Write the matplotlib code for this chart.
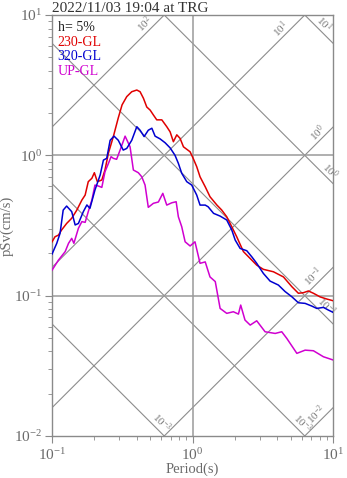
import numpy as np
import matplotlib
matplotlib.use('Agg')
import matplotlib.pyplot as plt
from matplotlib.ticker import LogLocator, NullFormatter

plt.rcParams.update({
    'font.family': ['Liberation Serif', 'DejaVu Serif'],
    'mathtext.fontset': 'custom',
    'mathtext.rm': 'Liberation Serif',
    'mathtext.it': 'Liberation Serif:italic',
    'mathtext.bf': 'Liberation Serif:bold',
})

GRAY = '#7a7a7a'
LINE_GRAY = '#8c8c8c'
RED = '#e00000'
BLUE = '#0000d0'
MAGENTA = '#d000d0'

# ── Spectra (period s, pSv cm/s) ──────────────────────────────────────────────
t_230 = [0.100, 0.105, 0.111, 0.117, 0.127, 0.138, 0.150, 0.163, 0.172, 0.181,
         0.192, 0.200, 0.210, 0.226, 0.238, 0.252, 0.273, 0.296, 0.315, 0.340,
         0.369, 0.401, 0.423, 0.447, 0.472, 0.499, 0.526, 0.556, 0.604, 0.655,
         0.692, 0.730, 0.772, 0.815, 0.861, 0.960, 1.01, 1.07, 1.13, 1.23,
         1.33, 1.49, 1.61, 1.75, 1.90, 2.06, 2.30, 2.57, 2.86, 3.19,
         3.76, 4.43, 5.08, 5.66, 6.15, 6.67, 7.24, 8.08, 9.02, 10.0]
sv_230 = [0.242, 0.263, 0.270, 0.294, 0.327, 0.356, 0.407, 0.480, 0.521, 0.649,
          0.686, 0.752, 0.649, 0.667, 0.786, 1.04, 1.36, 1.85, 2.29, 2.62,
          2.84, 2.92, 2.84, 2.55, 2.21, 2.10, 1.94, 1.79, 1.79, 1.60,
          1.47, 1.25, 1.40, 1.32, 1.15, 1.06, 0.951, 0.830, 0.703, 0.597,
          0.507, 0.442, 0.408, 0.365, 0.310, 0.263, 0.206, 0.184, 0.165, 0.154,
          0.148, 0.136, 0.116, 0.104, 0.105, 0.108, 0.104, 0.098, 0.0946, 0.092]

t_320 = [0.100, 0.108, 0.114, 0.120, 0.127, 0.138, 0.146, 0.154, 0.167, 0.177,
         0.186, 0.202, 0.220, 0.232, 0.245, 0.259, 0.276, 0.296, 0.321, 0.340,
         0.369, 0.401, 0.423, 0.452, 0.484, 0.513, 0.541, 0.587, 0.637, 0.692,
         0.750, 0.792, 0.837, 0.909, 0.986, 1.07, 1.13, 1.23, 1.29, 1.41,
         1.57, 1.75, 1.90, 2.01, 2.18, 2.43, 2.64, 2.86, 3.19, 3.56,
         4.08, 4.55, 5.08, 5.66, 6.32, 7.05, 7.65, 8.53, 9.26, 10.0]
sv_320 = [0.198, 0.236, 0.278, 0.407, 0.435, 0.397, 0.319, 0.327, 0.397, 0.443,
          0.419, 0.566, 0.724, 0.925, 0.952, 1.28, 1.37, 1.28, 1.09, 1.12,
          1.28, 1.60, 1.51, 1.36, 1.51, 1.56, 1.37, 1.31, 1.23, 1.13,
          1.00, 0.877, 0.745, 0.649, 0.614, 0.521, 0.442, 0.442, 0.430, 0.386,
          0.369, 0.346, 0.294, 0.249, 0.217, 0.209, 0.189, 0.170, 0.144, 0.127,
          0.119, 0.107, 0.0983, 0.0890, 0.0881, 0.0843, 0.0811, 0.0825, 0.0789, 0.0760]

t_up = [0.100, 0.111, 0.124, 0.131, 0.138, 0.143, 0.154, 0.163, 0.172, 0.181,
        0.192, 0.202, 0.214, 0.226, 0.238, 0.252, 0.263, 0.273, 0.288, 0.305,
        0.331, 0.359, 0.379, 0.411, 0.435, 0.459, 0.484, 0.526, 0.571, 0.614,
        0.655, 0.711, 0.764, 0.792, 0.837, 0.885, 0.960, 1.04, 1.13, 1.23,
        1.33, 1.45, 1.57, 1.75, 1.95, 2.12, 2.20, 2.36, 2.57, 2.86,
        3.28, 3.87, 4.31, 4.68, 5.52, 6.32, 7.24, 8.53, 10.0]
sv_up = [0.152, 0.179, 0.206, 0.236, 0.256, 0.236, 0.302, 0.337, 0.333, 0.397,
         0.480, 0.614, 0.604, 0.591, 0.764, 0.877, 0.978, 0.952, 0.937, 1.09,
         1.37, 1.15, 0.786, 0.752, 0.703, 0.614, 0.426, 0.455, 0.465, 0.536,
         0.442, 0.459, 0.467, 0.365, 0.310, 0.242, 0.226, 0.242, 0.170, 0.174,
         0.136, 0.126, 0.0811, 0.0748, 0.0768, 0.0739, 0.0857, 0.0670, 0.0617, 0.0662,
         0.0553, 0.0538, 0.0553, 0.0496, 0.0388, 0.0409, 0.0405, 0.0367, 0.0348]

series_names = ['230-GL', '320-GL', 'UP-GL']

# tripartite guide values: pSa (cm/s^2) and Sd (cm)
sa_levels = [1e-2, 1e-1, 1e0, 1e1, 1e2]
sd_levels = [1e-3, 1e-2, 1e-1, 1e0, 1e1]
sa_labels = [(1e2, 0.50, r'$10^2$'), (1e1, 4.6, r'$10^1$'), (1e0, 8.4, r'$10^0$'),
             (1e-1, 7.9, r'$10^{-1}$'), (1e-2, 8.2, r'$10^{-2}$')]
sd_labels = [(1e1, 7.9, r'$10^1$'), (1e0, 8.8, r'$10^0$'), (1e-1, 8.2, r'$10^{-1}$'),
             (1e-2, 5.6, r'$10^{-3}$'), (1e-3, 0.55, r'$10^{-3}$')]

fig = plt.figure(figsize=(3.47, 4.78), dpi=100)
ax = fig.add_axes([0.150, 0.0879, 0.810, 0.8807])
ax.set_xscale('log')
ax.set_yscale('log')
ax.set_xlim(0.1, 10)
ax.set_ylim(0.01, 10)

# ── Tripartite grid ───────────────────────────────────────────────────────────
tt = np.logspace(-1, 1, 200)
for sa in sa_levels:
    ax.plot(tt, sa * tt / (2 * np.pi), color=LINE_GRAY, lw=0.8, zorder=1)
for sd in sd_levels:
    ax.plot(tt, 2 * np.pi * sd / tt, color=LINE_GRAY, lw=0.8, zorder=1)
for sa, t, lab in sa_labels:
    ax.text(t, sa * t / (2 * np.pi), lab, rotation=45, rotation_mode='anchor',
            ha='center', va='bottom', fontsize=8, color=GRAY, zorder=2)
for sd, t, lab in sd_labels:
    ax.text(t, 2 * np.pi * sd / t, lab, rotation=-45, rotation_mode='anchor',
            ha='center', va='bottom', fontsize=8, color=GRAY, zorder=2)

ax.axvline(1, color='#9a9a9a', lw=1.1, zorder=1)
for y in (0.1, 1):
    ax.axhline(y, color='#9a9a9a', lw=1.1, zorder=1)

# ── Spectra ───────────────────────────────────────────────────────────────────
ax.plot(t_230, sv_230, color=RED, lw=1.1, zorder=3)
ax.plot(t_320, sv_320, color=BLUE, lw=1.1, zorder=4)
ax.plot(t_up, sv_up, color=MAGENTA, lw=1.1, zorder=3)

legend_lines = [('h= 5%', '#222222')] + list(zip(series_names, [RED, BLUE, MAGENTA]))
for i, (txt, c) in enumerate(legend_lines):
    ax.text(0.02, 0.985 - i * 0.0345, txt, transform=ax.transAxes, color=c,
            fontsize=10, ha='left', va='top')

# ── Axes styling ──────────────────────────────────────────────────────────────
for s in ax.spines.values():
    s.set_color('#8a8a8a')
    s.set_linewidth(1.0)
ax.xaxis.set_major_locator(LogLocator(base=10, numticks=5))
ax.yaxis.set_major_locator(LogLocator(base=10, numticks=5))
ax.xaxis.set_minor_locator(LogLocator(base=10, subs=np.arange(2, 10), numticks=12))
ax.yaxis.set_minor_locator(LogLocator(base=10, subs=np.arange(2, 10), numticks=12))
ax.xaxis.set_minor_formatter(NullFormatter())
ax.yaxis.set_minor_formatter(NullFormatter())
ax.tick_params(which='both', direction='out', color='#8a8a8a', labelcolor='#6a6a6a',
               labelsize=11)
ax.tick_params(which='major', length=5)
ax.tick_params(which='minor', length=3)
ax.tick_params(axis='x', pad=3)
ax.tick_params(axis='y', pad=2)

ax.set_xlabel('Period(s)', fontsize=10.5, color='#6a6a6a', labelpad=0)
ax.set_ylabel('pSv(cm/s)', fontsize=10.5, color='#6a6a6a', labelpad=0)
ax.set_title('2022/11/03 19:04 at TRG', loc='left', fontsize=11, color='#333333',
             pad=2)

fig.savefig('out.png', dpi=100)
